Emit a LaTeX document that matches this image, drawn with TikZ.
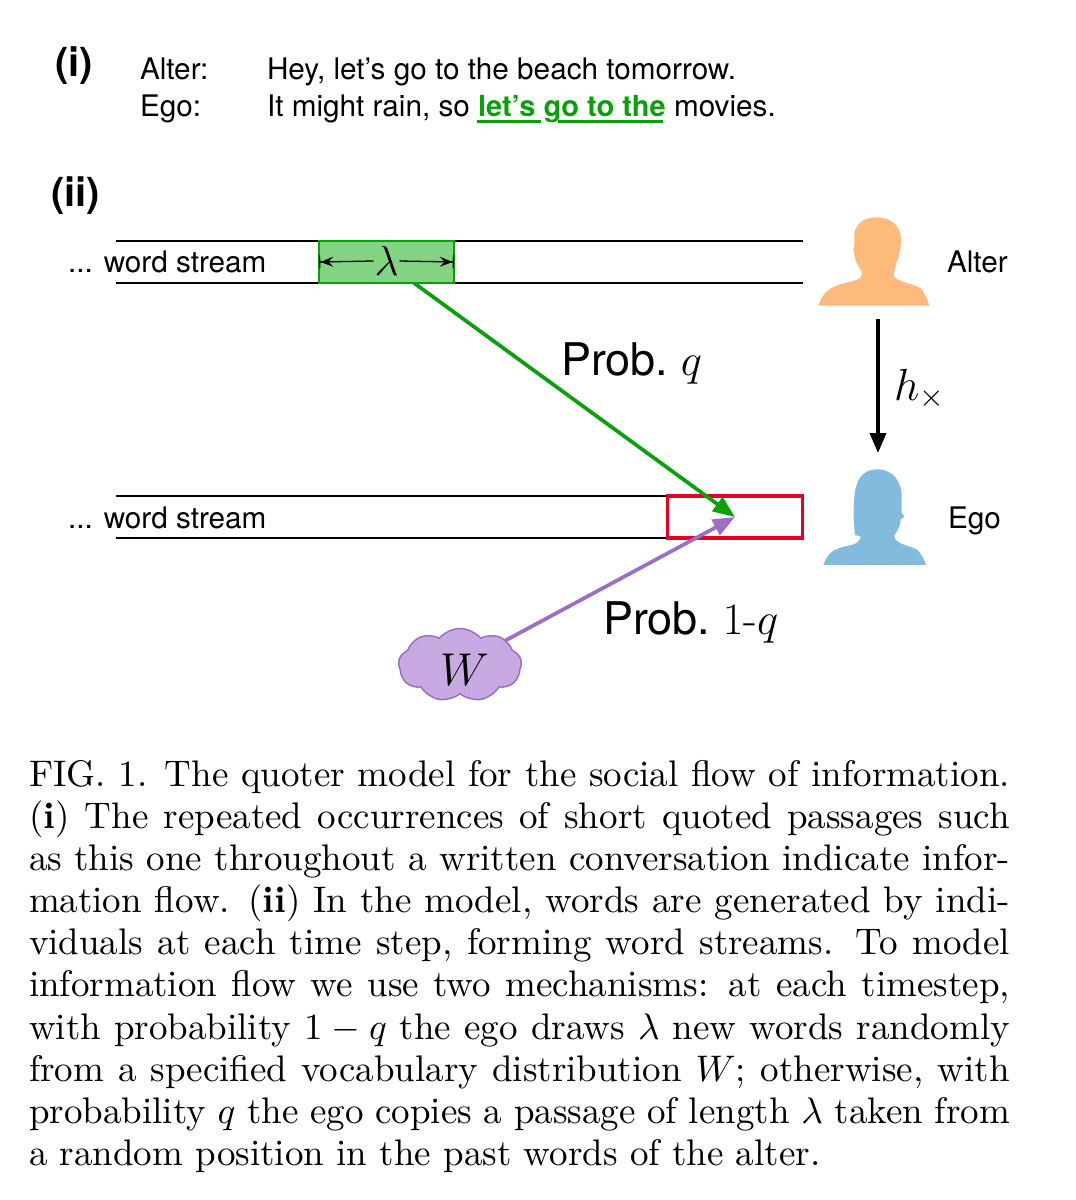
\RequirePackage{fix-cm}
\documentclass[tikz,border=0pt]{standalone}
\usepackage{fontspec}
\setsansfont{TeX Gyre Heros}
\usetikzlibrary{arrows.meta,shapes.symbols}
\definecolor{quotegreen}{RGB}{10,160,10}
\definecolor{lambdagreen}{RGB}{130,211,130}
\definecolor{altercolor}{RGB}{254,185,125}
\definecolor{egocolor}{RGB}{130,187,222}
\definecolor{wordpurple}{RGB}{155,110,200}
\definecolor{cloudpurple}{RGB}{199,170,226}
\definecolor{copyred}{RGB}{230,0,35}
\tikzset{
  every node/.style={anchor=base west,inner sep=0pt,outer sep=0pt,font=\sffamily},
  small/.style={font=\sffamily\fontsize{29.7}{34}\selectfont},
  panel/.style={font=\sffamily\bfseries\fontsize{40}{46}\selectfont},
  prob/.style={font=\sffamily\fontsize{45}{50}\selectfont},
  stream/.style={line width=1.5pt},
  flow/.style={line width=3.7pt,-{Triangle[length=22pt,width=17pt]}},
}
\begin{document}
\begin{tikzpicture}[x=1pt,y=-1pt]
  \useasboundingbox (0,0) rectangle (1076,1200);
  % part (i)
  \node [panel] (parti) at (55,76) {(i)};
  \node [small] (alterin) at (140,79) {Alter:};
  \node [small] (egoin) at (140,116) {Ego:};
  \node [small] (alterline) at (267,79) {Hey, let’s go to the beach tomorrow.};
  \node [small] (egoline) at (267,116) {It might rain, so {\bfseries\fontsize{29}{34}\selectfont\color{quotegreen}let’s go to the} movies.};
  \draw [quotegreen,line width=3pt] (477,121) -- (541,121);
  \draw [quotegreen,line width=3pt] (558,121) -- (663,121);
  % part (ii)
  \node [panel] (partii) at (51,206) {(ii)};
  \node [small] (alterstream) at (68,272) {... word stream};
  \node [small] (egostream) at (68,528) {... word stream};
  \draw [stream] (116,241) -- (803,241);
  \draw [stream] (116,283) -- (803,283);
  \draw [stream] (116,496) -- (667,496);
  \draw [stream] (116,538) -- (667,538);
  \node [anchor=center,draw=quotegreen,fill=lambdagreen,line width=1.5pt,minimum width=135pt,minimum height=42pt] (lambdabox) at (386.5,262) {};
  \node [anchor=center,draw=copyred,line width=3.5pt,minimum width=135pt,minimum height=42pt] (copybox) at (735,517) {};
  \node [anchor=center,font=\fontsize{42}{46}\selectfont,fill=lambdagreen,inner xsep=1pt,inner ysep=0pt] (lam) at (386.5,261) {$\lambda$};
  \draw [line width=1.3pt,{Bar[width=13pt]Stealth[length=13pt,width=10pt,inset=5pt]}-] (lambdabox.west) -- (lam.west);
  \draw [line width=1.3pt,{Bar[width=13pt]Stealth[length=13pt,width=10pt,inset=5pt]}-] (lambdabox.east) -- (lam.east);
  % silhouettes
  \begin{scope}[shift={(800,200)},x=0.3333pt,y=-0.3333pt]
    \fill [altercolor] (55,317) .. controls (66,285) and (80,268) .. (115,255)
      .. controls (140,246) and (172,244) .. (182,232)
      .. controls (188,222) and (185,210) .. (178,203)
      .. controls (172,195) and (168,185) .. (166,178) -- (160,150)
      .. controls (168,130) and (158,100) .. (168,85)
      .. controls (180,60) and (205,52) .. (232,52)
      .. controls (275,52) and (305,80) .. (303,125)
      .. controls (302,165) and (285,190) .. (281,225)
      .. controls (282,245) and (340,250) .. (362,265)
      .. controls (375,280) and (382,297) .. (388,317) -- cycle;
    \fill [egocolor] (70,1095) .. controls (80,1070) and (90,1052) .. (125,1042)
      .. controls (150,1035) and (172,1035) .. (180,1018)
      -- (182,1010) -- (165,1005) -- (163,985)
      .. controls (160,950) and (160,910) .. (165,875)
      .. controls (172,830) and (195,808) .. (232,808)
      .. controls (275,808) and (305,840) .. (305,890)
      -- (305,938) -- (313,950) -- (302,958)
      .. controls (300,985) and (290,995) .. (283,1005)
      .. controls (280,1030) and (320,1035) .. (350,1048)
      .. controls (365,1060) and (372,1080) .. (378,1095) -- cycle;
  \end{scope}
  \node [anchor=center,minimum width=112pt,minimum height=88pt] (alter) at (878,262) {};
  \node [anchor=center,minimum width=104pt,minimum height=96pt] (ego) at (878,517) {};
  \node [small] (alterlabel) at (947,272) {Alter};
  \node [small] (egolabel) at (948,528) {Ego};
  % flows
  \coordinate (quotestart) at (414,283);
  \node [anchor=center,cloud,cloud puffs=9,cloud puff arc=100,aspect=1.7,draw=wordpurple,fill=cloudpurple,line width=1.5pt,minimum width=123pt,minimum height=73pt] (vocab) at (460,665) {};
  \node [font=\fontsize{46}{50}\selectfont] (vocabname) at (440,685) {$W$};
  \draw [flow,quotegreen] (quotestart) -- (copybox.center);
  \draw [flow,wordpurple] (vocab) -- (copybox.center);
  \draw [line width=3.5pt,-{Triangle[length=20pt,width=16pt]}] (alter.south) ++(0,13) -- (878,453);
  \node [prob] (probq) at (561,375) {Prob.\ $q$};
  \node [prob] (probw) at (603,634) {Prob.\ $1$\rmfamily-$q$};
  \node [font=\fontsize{45}{48}\selectfont] (hcross) at (894,400) {$h_\times$};
  % caption
  \node [anchor=north west,scale=3.7,text width=265.1pt,align=justify,font=\rmfamily\fontsize{10}{11.4}\selectfont] (caption) at (29,760) {%
    FIG. 1. The quoter model for the social flow of information.\linebreak
    (\textbf{i}) The repeated occurrences of short quoted passages such\linebreak
    as this one throughout a written conversation indicate infor-\linebreak
    mation flow. (\textbf{ii}) In the model, words are generated by indi-\linebreak
    viduals at each time step, forming word streams. To model\linebreak
    information flow we use two mechanisms: at each timestep,\linebreak
    with probability $1-q$ the ego draws $\lambda$ new words randomly\linebreak
    from a specified vocabulary distribution $W$; otherwise, with\linebreak
    probability $q$ the ego copies a passage of length $\lambda$ taken from\linebreak
    a random position in the past words of the alter.};
\end{tikzpicture}
\end{document}
